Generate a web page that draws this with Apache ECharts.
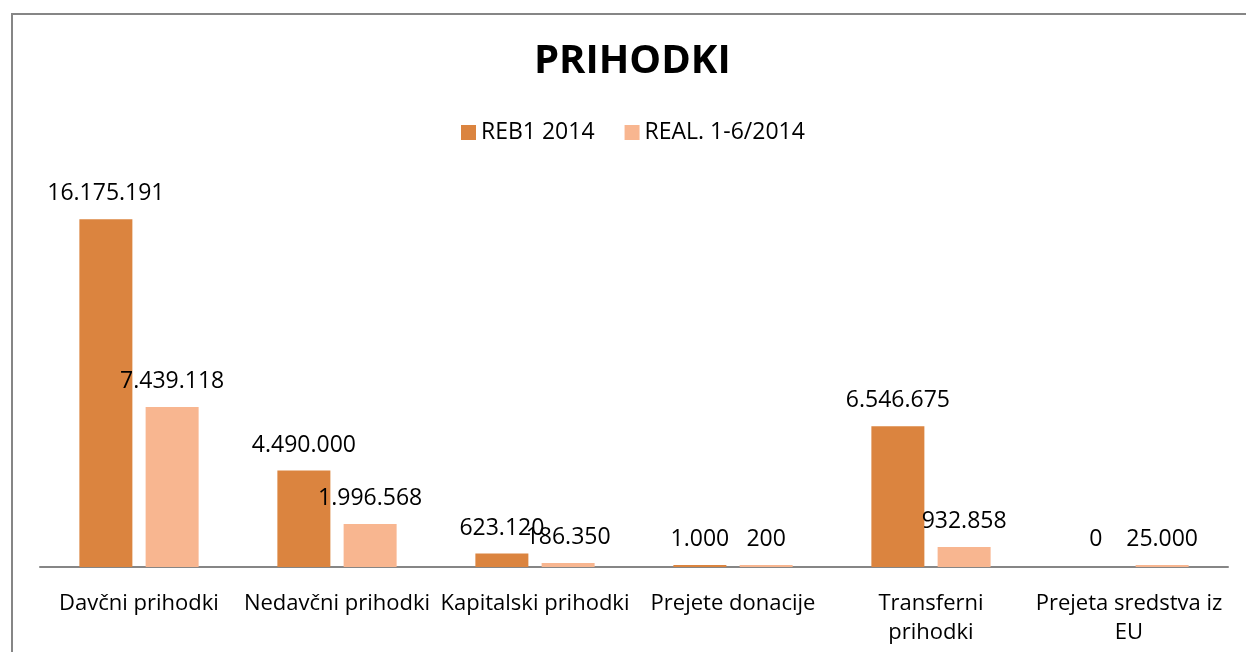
<!DOCTYPE html>
<html>
<head>
<meta charset="utf-8">
<script src="https://cdn.jsdelivr.net/npm/echarts@6/dist/echarts.min.js"></script>
<style>
  html, body { margin: 0; padding: 0; background: #fff; }
  #chart { width: 1246px; height: 652px; }
</style>
</head>
<body>
<div id="chart"></div>
<script>
const categories = [
  'Davčni prihodki',
  'Nedavčni prihodki',
  'Kapitalski prihodki',
  'Prejete donacije',
  'Transferni\nprihodki',
  'Prejeta sredstva iz\nEU',
];
const reb1 = [16175191, 4490000, 623120, 1000, 6546675, 0];
const real = [7439118, 1996568, 186350, 200, 932858, 25000];
const seriesNames = ['REB1 2014', 'REAL. 1-6/2014'];

const fontFamily = 'Open Sans';
const fmt = v => String(v).replace(/\B(?=(\d{3})+(?!\d))/g, '.');
// zero values get no visible bar, only the label
const toItems = arr => arr.map(v => (v === 0 ? { value: v, itemStyle: { color: 'transparent' } } : v));

const chart = echarts.init(document.getElementById('chart'));

const labelCfg = {
  show: true,
  position: 'top',
  distance: 14,
  color: '#000',
  fontSize: 23,
  fontFamily,
  formatter: p => fmt(p.value),
};

chart.setOption({
  animation: false,
  backgroundColor: '#fff',
  graphic: [
    {
      type: 'rect',
      shape: { x: 12, y: 14, width: 1300, height: 700 },
      style: { fill: 'none', stroke: '#868686', lineWidth: 2 },
      silent: true,
    },
  ],
  title: {
    text: 'PRIHODKI',
    left: 529,
    top: 37,
    textStyle: { fontFamily, fontWeight: 'bold', fontSize: 40, color: '#000' },
  },
  legend: {
    top: 116,
    left: 456,
    itemWidth: 15,
    itemHeight: 15,
    itemGap: 30,
    icon: 'rect',
    textStyle: { fontFamily, fontSize: 23, color: '#000' },
    data: seriesNames,
  },
  grid: { left: 40, right: 18, top: 180, bottom: 85 },
  xAxis: {
    type: 'category',
    data: categories,
    axisLine: { lineStyle: { color: '#868686', width: 2 } },
    axisTick: { show: false },
    axisLabel: {
      interval: 0,
      margin: 22,
      color: '#000',
      fontSize: 22,
      fontFamily,
      lineHeight: 29,
    },
  },
  yAxis: {
    type: 'value',
    min: 0,
    max: 18000000,
    show: false,
    splitLine: { show: false },
  },
  series: [
    {
      name: seriesNames[0],
      type: 'bar',
      data: toItems(reb1),
      barWidth: 53,
      barGap: '25%',
      barMinHeight: 2,
      itemStyle: { color: '#DB843F' },
      label: labelCfg,
    },
    {
      name: seriesNames[1],
      type: 'bar',
      data: toItems(real),
      barWidth: 53,
      barMinHeight: 2,
      itemStyle: { color: '#F8B690' },
      label: labelCfg,
    },
  ],
});
</script>
</body>
</html>
